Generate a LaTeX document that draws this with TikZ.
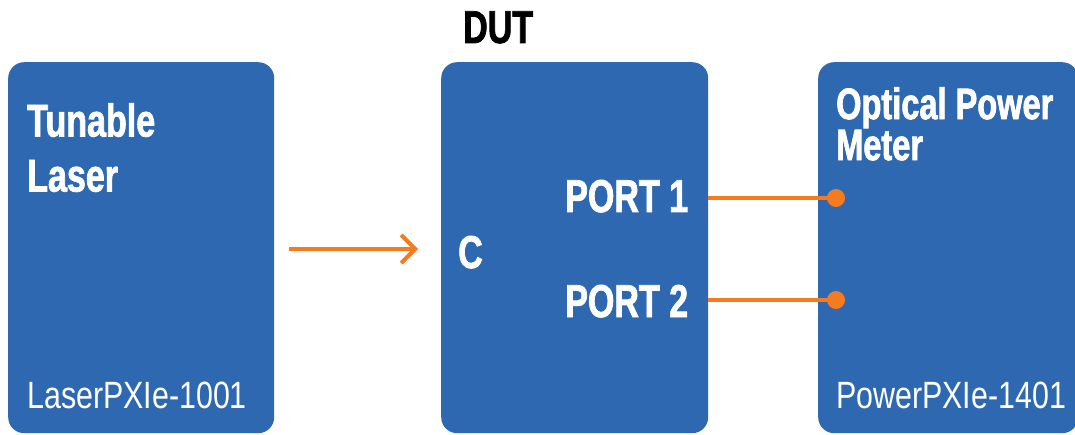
\documentclass[tikz,border=0pt]{standalone}
\usepackage{fontspec}
\usetikzlibrary{arrows.meta}
\newfontfamily\headfont[FakeStretch=0.74, FakeBold=1.6]{Liberation Sans Bold}
\newfontfamily\partfont[FakeStretch=0.8]{Liberation Sans}
\definecolor{boxblue}{HTML}{2D68B1}
\definecolor{fiber}{HTML}{F47B20}

\begin{document}
\begin{tikzpicture}[x=1pt, y=-1pt,
	unit/.style={fill=boxblue, rounded corners=16pt, inner sep=0, anchor=north west, minimum height=371pt},
	head/.style={text=white, font=\headfont\fontsize{46}{55}\selectfont, inner sep=0, align=left},
	part/.style={text=white, font=\partfont\fontsize{38}{40}\selectfont, inner sep=0, anchor=base west},
	jack/.style={circle, fill=fiber, inner sep=0, minimum size=18pt},
	fibre/.style={draw=fiber, line width=4pt}]
	\useasboundingbox (0,0) rectangle (1075,435);
	
	%instrument boxes
	\node[unit, minimum width=266pt] (laser) at (8,62) {};
	\node[unit, minimum width=267pt] (dut) at (441,62) {};
	\node[unit, minimum width=260pt] (meter) at (818,62) {};
	
	%box titles
	\node[head, anchor=north west] (lasertitle) at (27,103) {Tunable\\Laser};
	\node[head, anchor=north west, font=\headfont\fontsize{44}{41}\selectfont] (metertitle) at (836,87) {Optical Power\\Meter};
	\node[head, anchor=base west, text=black] (duttitle) at (463,43) {DUT};
	\node[head, anchor=base west] (common) at (458,268) {C};
	\node[head, anchor=base west] (port1) at (565,212) {PORT 1};
	\node[head, anchor=base west] (port2) at (565,317) {PORT 2};
	
	%model numbers
	\node[part] (lasermodel) at (27,408) {LaserPXIe-1001};
	\node[part] (metermodel) at (836,408) {PowerPXIe-1401};
	
	%fibre links
	\coordinate (beam) at (0,249);
	\draw[fibre, -{Straight Barb[length=14pt, width=28pt]}, shorten <=15pt, shorten >=23pt] (laser.east |- beam) -- (dut.west |- beam);
	\node[jack] (in1) at (836,198) {};
	\node[jack] (in2) at (836,300) {};
	\foreach \p in {1,2}{
		\draw[fibre] (dut.east |- in\p) -- (in\p.center);
	}
	
\end{tikzpicture}
\end{document}
